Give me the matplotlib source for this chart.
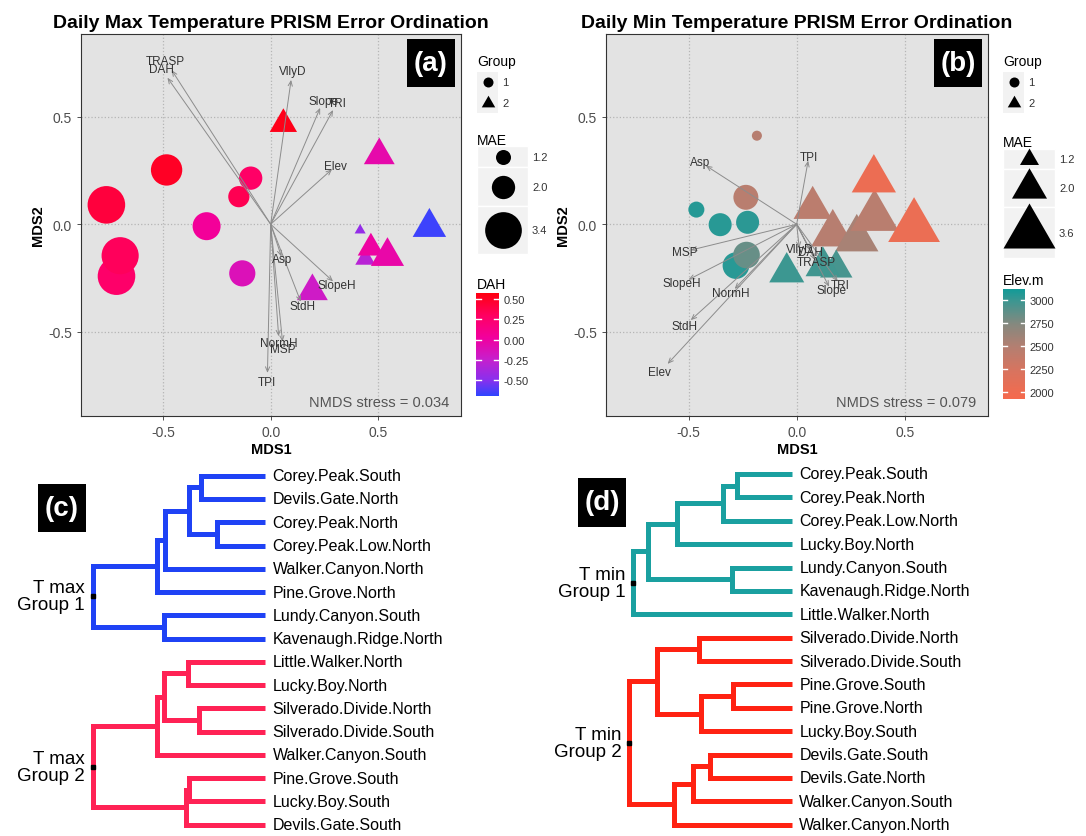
import numpy as np
import matplotlib
matplotlib.use("Agg")
import matplotlib.pyplot as plt
from matplotlib.colors import LinearSegmentedColormap, Normalize
from matplotlib.patches import Rectangle

plt.rcParams['font.family'] = ['Liberation Sans', 'DejaVu Sans']

W, H = 1086, 837
PT = 0.72  # points per pixel at dpi=100

# ---------------- (a) daily max temperature NMDS ----------------
a_circ_x = [-0.484, -0.764, -0.717, -0.700, -0.298, -0.093, -0.148, -0.132]
a_circ_y = [0.252, 0.090, -0.241, -0.146, -0.009, 0.214, 0.128, -0.228]
a_circ_mae = [2.84, 3.50, 3.50, 3.45, 2.49, 2.00, 1.80, 2.30]
a_circ_dah = [0.50, 0.42, 0.27, 0.32, 0.05, 0.28, 0.35, -0.12]

a_tri_x = [0.440, 0.059, 0.505, 0.738, 0.416, 0.466, 0.543, 0.194]
a_tri_y = [-0.161, 0.465, 0.320, -0.014, -0.028, -0.110, -0.149, -0.311]
a_tri_mae = [1.19, 1.71, 1.96, 2.16, 0.52, 1.64, 2.14, 1.96]
a_tri_dah = [-0.30, 0.54, -0.05, -0.66, -0.45, 0.00, -0.03, -0.20]

a_vec_names = ['TRASP', 'DAH', 'VllyD', 'Slope', 'TRI', 'Elev', 'Asp',
               'SlopeH', 'StdH', 'NormH', 'MSP', 'TPI']
a_vec_x = [-0.46, -0.48, 0.095, 0.23, 0.29, 0.285, 0.05, 0.29, 0.14, 0.037, 0.055, -0.015]
a_vec_y = [0.715, 0.68, 0.67, 0.54, 0.53, 0.255, -0.15, -0.265, -0.36, -0.52, -0.545, -0.69]

# ---------------- (b) daily min temperature NMDS ----------------
b_circ_x = [-0.184, -0.235, -0.464, -0.354, -0.227, -0.281, -0.232]
b_circ_y = [0.411, 0.125, 0.068, -0.002, 0.009, -0.192, -0.143]
b_circ_mae = [0.92, 1.93, 1.33, 1.80, 1.80, 2.08, 2.08]
b_circ_elev = [2480, 2460, 3070, 3060, 3050, 3060, 2850]

b_tri_x = [0.074, 0.167, 0.278, 0.360, 0.183, 0.121, -0.046, 0.357, 0.543]
b_tri_y = [0.076, -0.045, -0.068, 0.034, -0.204, -0.195, -0.223, 0.207, -0.013]
b_tri_mae = [2.30, 2.78, 2.78, 3.26, 1.87, 1.98, 2.00, 2.87, 3.58]
b_tri_elev = [2450, 2480, 2560, 2460, 2960, 2980, 3000, 2030, 2040]

b_vec_names = ['TPI', 'Asp', 'MSP', 'SlopeH', 'NormH', 'StdH', 'Elev',
               'VllyD', 'DAH', 'TRASP', 'TRI', 'Slope']
b_vec_x = [0.053, -0.42, -0.49, -0.50, -0.287, -0.49, -0.597, 0.012, 0.062, 0.085, 0.19, 0.15]
b_vec_y = [0.295, 0.272, -0.12, -0.257, -0.30, -0.445, -0.648, -0.11, -0.12, -0.166, -0.265, -0.29]

# ---------------- (c) Tmax dendrograms ----------------
c_g1_leaves = ['Corey.Peak.South', 'Devils.Gate.North', 'Corey.Peak.North',
               'Corey.Peak.Low.North', 'Walker.Canyon.North', 'Pine.Grove.North',
               'Lundy.Canyon.South', 'Kavenaugh.Ridge.North']
c_g1_merges = [(0, 1, 0.371), (2, 3, 0.277), (8, 9, 0.439), (10, 4, 0.580),
               (11, 5, 0.629), (6, 7, 0.586), (12, 13, 1.0)]
c_g2_leaves = ['Little.Walker.North', 'Lucky.Boy.North', 'Silverado.Divide.North',
               'Silverado.Divide.South', 'Walker.Canyon.South', 'Pine.Grove.South',
               'Lucky.Boy.South', 'Devils.Gate.South']
c_g2_merges = [(0, 1, 0.445), (2, 3, 0.383), (8, 9, 0.584), (10, 4, 0.629),
               (5, 6, 0.439), (12, 7, 0.460), (11, 13, 1.0)]

# ---------------- (d) Tmin dendrograms ----------------
d_g1_leaves = ['Corey.Peak.South', 'Corey.Peak.North', 'Corey.Peak.Low.North',
               'Lucky.Boy.North', 'Lundy.Canyon.South', 'Kavenaugh.Ridge.North',
               'Little.Walker.North']
d_g1_merges = [(0, 1, 0.343), (7, 2, 0.436), (8, 3, 0.722), (4, 5, 0.375),
               (9, 10, 0.905), (11, 6, 1.0)]
d_g2_leaves = ['Silverado.Divide.North', 'Silverado.Divide.South', 'Pine.Grove.South',
               'Pine.Grove.North', 'Lucky.Boy.South', 'Devils.Gate.South',
               'Devils.Gate.North', 'Walker.Canyon.South', 'Walker.Canyon.North']
d_g2_merges = [(0, 1, 0.583), (2, 3, 0.368), (10, 4, 0.575), (9, 11, 0.853),
               (5, 6, 0.516), (13, 7, 0.621), (14, 8, 0.741), (12, 15, 1.025)]

# colour scales
dah_cmap = LinearSegmentedColormap.from_list('dah', [
    (0.0, '#2F45FF'), (0.155, '#8A30EE'), (0.36, '#C81FCC'),
    (0.565, '#F2009E'), (0.77, '#FF0066'), (1.0, '#FF0010')])
dah_norm = Normalize(-0.69, 0.574)
elev_cmap = LinearSegmentedColormap.from_list('elev', [
    (0.0, '#F66A4D'), (0.25, '#D9745F'), (0.47, '#B57F71'),
    (0.68, '#86897F'), (0.90, '#3A9792'), (1.0, '#129B98')])
elev_norm = Normalize(1927, 3127)

# size scales (MAE -> circle diameter in px)
a_size_breaks = [0.3, 1.2, 2.0, 3.4, 4.0]
a_size_px = [6, 15, 23.3, 36.7, 42]
b_size_breaks = [0.5, 1.2, 2.0, 3.6, 4.0]
b_size_px = [4, 14.1, 26, 38.6, 41.7]

TRI = [(0, 1.555), (1.347, -0.778), (-1.347, -0.778)]
TRI_K = 1.555


def px_axes(fig, x0, y0, x1, y1):
    return fig.add_axes([x0 / W, 1 - y1 / H, (x1 - x0) / W, (y1 - y0) / H])


def draw_nmds(ax, cx, cy, cmae, cval, tx, ty, tmae, tval, vn, vx, vy,
              cmap, norm, breaks, sizes, stress, tag, title):
    ax.set_facecolor('#E3E3E3')
    ax.set_xlim(-0.882, 0.885)
    ax.set_ylim(-0.89, 0.883)
    ticks = [-0.5, 0.0, 0.5]
    ax.set_xticks(ticks)
    ax.set_yticks(ticks)
    ax.set_xticklabels(['-0.5', '0.0', '0.5'])
    ax.set_yticklabels(['-0.5', '0.0', '0.5'])
    ax.grid(True, ls=':', color='#B5B5B5', lw=0.9)
    ax.set_axisbelow(True)
    ax.tick_params(color='#333333', labelcolor='#4D4D4D', labelsize=10, length=3, width=0.6)
    for s in ax.spines.values():
        s.set_color('#333333')
        s.set_linewidth(0.8)

    dc = np.interp(cmae, breaks, sizes) * PT
    ax.scatter(cx, cy, s=dc ** 2, c=cmap(norm(cval)), marker='o', linewidths=0, zorder=2)
    dt = np.interp(tmae, breaks, sizes) * PT * TRI_K
    ax.scatter(tx, ty, s=dt ** 2, c=cmap(norm(tval)), marker=TRI, linewidths=0, zorder=2)

    for n, x, y in zip(vn, vx, vy):
        ax.annotate('', xy=(x, y), xytext=(0, 0), zorder=3,
                    arrowprops=dict(arrowstyle='->,head_length=0.35,head_width=0.15',
                                    color='#8C8C8C', lw=0.7, shrinkA=0, shrinkB=0))
        ax.text(x * 1.06, y * 1.06, n, fontsize=8.5, color='#333333',
                ha='center', va='center', zorder=4)

    ax.text(0.97, 0.036, stress, transform=ax.transAxes, ha='right', va='center',
            fontsize=10.5, color='#555555')
    ax.add_patch(Rectangle((0.858, 0.861), 0.126, 0.126, transform=ax.transAxes,
                           fc='black', ec='none', zorder=5))
    ax.text(0.921, 0.924, tag, transform=ax.transAxes, ha='center', va='center',
            color='white', fontsize=20, fontweight='bold', zorder=6)
    ax.set_title(title, fontweight='bold', fontsize=14, pad=5)
    ax.set_xlabel('MDS1', fontweight='bold', fontsize=10.5, labelpad=2)
    ax.set_ylabel('MDS2', fontweight='bold', fontsize=10.5, labelpad=2)


def draw_legend(fig, ov, x0, marker, kscale, mae_labels, breaks, sizes, rows,
                mae_title_y, ctitle, ctitle_y, bar, cmap, norm, cticks, clabels):
    ov.text(x0, 62, 'Group', fontsize=10, va='center', ha='left')
    ov.add_patch(Rectangle((x0, 73), 21, 41, fc='#F2F2F2', ec='none'))
    ov.scatter([x0 + 10.5], [83], s=(10 * PT) ** 2, marker='o', c='black', linewidths=0)
    ov.scatter([x0 + 10.5], [104], s=(10 * PT * TRI_K) ** 2, marker=TRI, c='black', linewidths=0)
    ov.text(x0 + 25, 83, '1', fontsize=8, va='center', color='#333333')
    ov.text(x0 + 25, 104, '2', fontsize=8, va='center', color='#333333')

    ov.text(x0, mae_title_y, 'MAE', fontsize=10, va='center', ha='left')
    kw = rows[0][2]
    for (y0, y1, _), lab in zip(rows, mae_labels):
        ov.add_patch(Rectangle((x0, y0), kw, y1 - y0, fc='#F2F2F2', ec='white', lw=1))
        d = np.interp(float(lab), breaks, sizes) * PT * kscale
        ov.scatter([x0 + kw / 2], [(y0 + y1) / 2], s=d ** 2, marker=marker, c='black', linewidths=0)
        ov.text(x0 + kw + 4, (y0 + y1) / 2, lab, fontsize=8, va='center', color='#333333')

    ov.text(x0, ctitle_y, ctitle, fontsize=10, va='center', ha='left')
    cax = px_axes(fig, *bar)
    vmin, vmax = norm.vmin, norm.vmax
    cax.imshow(np.linspace(vmax, vmin, 256)[:, None], aspect='auto', cmap=cmap, norm=norm,
               extent=[0, 1, vmin, vmax])
    cax.set_xticks([])
    cax.yaxis.tick_right()
    cax.set_yticks(cticks)
    cax.set_yticklabels(clabels)
    cax.tick_params(length=0, labelsize=8, pad=3, labelcolor='#333333')
    for t in cticks:
        cax.plot([0, 0.2], [t, t], color='white', lw=1)
        cax.plot([0.8, 1], [t, t], color='white', lw=1)
    cax.set_ylim(vmin, vmax)
    cax.set_xlim(0, 1)
    for s in cax.spines.values():
        s.set_visible(False)


def draw_dendro(ax, leaves, merges, y0, color, glabel):
    n = len(leaves)
    pos = [(0.0, y0 + i) for i in range(n)]
    for i, j, h in merges:
        (hi, yi), (hj, yj) = pos[i], pos[j]
        ax.plot([hi, h, h, hj], [yi, yi, yj, yj], color=color, lw=3.6,
                solid_joinstyle='miter', solid_capstyle='butt')
        pos.append((h, (yi + yj) / 2))
    for i, name in enumerate(leaves):
        ax.annotate(name, (0, y0 + i), xytext=(5.5, 0), textcoords='offset points',
                    va='center', ha='left', fontsize=11.5)
    hr, yr = pos[-1]
    ax.plot(hr, yr, 's', color='black', ms=3, zorder=3)
    ax.annotate(glabel, (hr, yr), xytext=(-5.5, 0), textcoords='offset points',
                ha='right', va='center', fontsize=13.5, multialignment='right', linespacing=1.0)


fig = plt.figure(figsize=(W / 100, H / 100), dpi=100, facecolor='white')

ax_a = px_axes(fig, 81, 35, 461, 417)
draw_nmds(ax_a, a_circ_x, a_circ_y, a_circ_mae, a_circ_dah,
          a_tri_x, a_tri_y, a_tri_mae, a_tri_dah,
          a_vec_names, a_vec_x, a_vec_y, dah_cmap, dah_norm,
          a_size_breaks, a_size_px, 'NMDS stress = 0.034', '(a)',
          'Daily Max Temperature PRISM Error Ordination')

ax_b = px_axes(fig, 606, 35, 988, 417)
draw_nmds(ax_b, b_circ_x, b_circ_y, b_circ_mae, b_circ_elev,
          b_tri_x, b_tri_y, b_tri_mae, b_tri_elev,
          b_vec_names, b_vec_x, b_vec_y, elev_cmap, elev_norm,
          b_size_breaks, b_size_px, 'NMDS stress = 0.079', '(b)',
          'Daily Min Temperature PRISM Error Ordination')

# dendrogram panels
ax_c = px_axes(fig, 0, 460, 480, 837)
ax_c.set_xlim(265 / 172.3, (265 - 480) / 172.3)
ax_c.set_ylim((837 - 476.7) / 23.27, (460 - 476.7) / 23.27)
ax_c.axis('off')
draw_dendro(ax_c, c_g1_leaves, c_g1_merges, 0, '#1F42F5', 'T max\nGroup 1')
draw_dendro(ax_c, c_g2_leaves, c_g2_merges, len(c_g1_leaves), '#FF2255', 'T max\nGroup 2')

ax_d = px_axes(fig, 540, 460, 1086, 837)
ax_d.set_xlim((791.7 - 540) / 158.4, (791.7 - 1086) / 158.4)
ax_d.set_ylim((837 - 475) / 23.38, (460 - 475) / 23.38)
ax_d.axis('off')
draw_dendro(ax_d, d_g1_leaves, d_g1_merges, 0, '#1AA0A0', 'T min\nGroup 1')
draw_dendro(ax_d, d_g2_leaves, d_g2_merges, len(d_g1_leaves), '#FF2212', 'T min\nGroup 2')

# overlay for legends and tag boxes
ov = fig.add_axes([0, 0, 1, 1])
ov.set_xlim(0, W)
ov.set_ylim(H, 0)
ov.axis('off')
ov.patch.set_alpha(0)

draw_legend(fig, ov, 477, 'o', 1.0, ['1.2', '2.0', '3.4'], a_size_breaks, a_size_px,
            [(146.7, 168.3, 51), (168.3, 206.7, 51), (206.7, 255, 51)], 141,
            'DAH', 285, (476, 294, 499, 396.5), dah_cmap, dah_norm,
            [0.5, 0.25, 0.0, -0.25, -0.5], ['0.50', '0.25', '0.00', '-0.25', '-0.50'])
draw_legend(fig, ov, 1003, TRI, TRI_K, ['1.2', '2.0', '3.6'], b_size_breaks, b_size_px,
            [(150, 170, 52), (170, 208, 52), (208, 259, 52)], 143,
            'Elev.m', 281, (1003, 289.7, 1025, 399.7), elev_cmap, elev_norm,
            [3000, 2750, 2500, 2250, 2000], ['3000', '2750', '2500', '2250', '2000'])

for (x0, y0, lab) in [(37.7, 485, '(c)'), (577.7, 479.3, '(d)')]:
    ov.add_patch(Rectangle((x0, y0), 48.3, 48.3, fc='black', ec='none'))
    ov.text(x0 + 24.2, y0 + 24.2, lab, color='white', fontsize=20, fontweight='bold',
            ha='center', va='center')

fig.savefig('out.png', dpi=100, facecolor='white')
